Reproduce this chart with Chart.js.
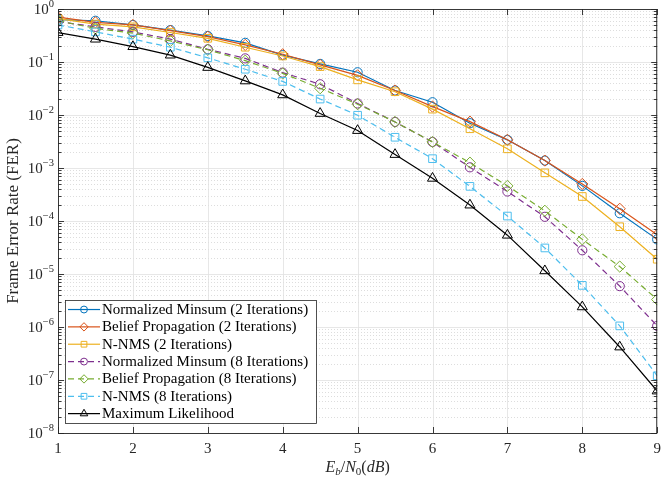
<!DOCTYPE html>
<html>
<head>
<meta charset="utf-8">
<script src="https://cdn.jsdelivr.net/npm/chart.js@4.4.1/dist/chart.umd.min.js"></script>
<style>
  html, body { margin: 0; padding: 0; background: #fff; }
  #wrap { width: 664px; height: 479px; }
</style>
</head>
<body>
<div id="wrap"><canvas id="ferChart"></canvas></div>
<script>
// Eb/N0 (dB)
const ebn0 = [1, 1.5, 2, 2.5, 3, 3.5, 4, 4.5, 5, 5.5, 6, 6.5, 7, 7.5, 8, 8.5, 9];

const nms2  = [0.63, 0.60, 0.50, 0.40, 0.31, 0.23, 0.135, 0.092, 0.064, 0.029, 0.0174, 0.0070, 0.0034, 0.00138, 4.6e-4, 1.4e-4, 4.5e-5];
const bp2   = [0.70, 0.56, 0.50, 0.39, 0.30, 0.21, 0.14, 0.088, 0.056, 0.029, 0.0144, 0.0075, 0.0034, 0.00138, 5.0e-4, 1.7e-4, 5.5e-5];
const nnms2 = [0.66, 0.52, 0.46, 0.36, 0.28, 0.19, 0.13, 0.082, 0.046, 0.0275, 0.0129, 0.0055, 0.0023, 8.1e-4, 2.9e-4, 7.8e-5, 1.9e-5];
const nms8  = [0.58, 0.46, 0.37, 0.27, 0.174, 0.117, 0.063, 0.038, 0.0165, 0.0074, 0.0031, 0.00103, 3.6e-4, 1.2e-4, 2.8e-5, 5.9e-6, 1.05e-6];
const bp8   = [0.60, 0.43, 0.35, 0.25, 0.17, 0.106, 0.061, 0.032, 0.016, 0.0074, 0.0031, 0.00126, 4.6e-4, 1.56e-4, 4.5e-5, 1.38e-5, 3.3e-6];
const nnms8 = [0.50, 0.37, 0.27, 0.19, 0.12, 0.073, 0.043, 0.020, 0.0099, 0.0038, 0.0015, 4.5e-4, 1.24e-4, 3.1e-5, 6.1e-6, 1.05e-6, 1.2e-7];
const ml    = [0.36, 0.27, 0.195, 0.135, 0.079, 0.044, 0.024, 0.0107, 0.0051, 0.0018, 6.4e-4, 2.0e-4, 5.4e-5, 1.15e-5, 2.4e-6, 4.2e-7, 6.2e-8];

const seriesNames = [
  "Normalized Minsum (2 Iterations)",
  "Belief Propagation (2 Iterations)",
  "N-NMS (2 Iterations)",
  "Normalized Minsum (8 Iterations)",
  "Belief Propagation (8 Iterations)",
  "N-NMS (8 Iterations)",
  "Maximum Likelihood"
];
const seriesData = [nms2, bp2, nnms2, nms8, bp8, nnms8, ml];

const xTicks = [1, 2, 3, 4, 5, 6, 7, 8, 9];
const yExponents = [0, -1, -2, -3, -4, -5, -6, -7, -8];

const colors = ["#0072BD", "#D95319", "#EDB120", "#7E2F8E", "#77AC30", "#4DBEEE", "#000000"];
const markers = ["circle", "rectRot", "rect", "circle", "rectRot", "rect", "triangle"];
const radii = [4.6, 5.6, 5.4, 4.6, 5.6, 5.4, 5.8];
const dashed = [false, false, false, true, true, true, false];

const SERIF = '"Liberation Serif", "DejaVu Serif", serif';

const datasets = seriesData.map((vals, i) => ({
  label: seriesNames[i],
  data: ebn0.map((x, k) => ({ x: x, y: vals[k] })),
  borderColor: colors[i],
  borderWidth: 1.2,
  borderDash: dashed[i] ? [6, 4] : [],
  pointStyle: markers[i],
  pointRadius: radii[i],
  pointBorderWidth: 1,
  pointBorderColor: colors[i],
  pointBackgroundColor: "rgba(0,0,0,0)",
  fill: false,
  tension: 0,
  order: 7 - i
}));

function drawMarker(ctx, style, x, y, r, color) {
  ctx.save();
  ctx.strokeStyle = color;
  ctx.lineWidth = 1;
  ctx.setLineDash([]);
  ctx.beginPath();
  if (style === "circle") {
    ctx.arc(x, y, r, 0, Math.PI * 2);
  } else if (style === "rect") {
    const h = r * Math.SQRT1_2;
    ctx.rect(x - h, y - h, 2 * h, 2 * h);
  } else if (style === "rectRot") {
    ctx.moveTo(x, y - r); ctx.lineTo(x + r, y); ctx.lineTo(x, y + r); ctx.lineTo(x - r, y); ctx.closePath();
  } else if (style === "triangle") {
    for (let k = 0; k < 3; k++) {
      const a = k * 2 * Math.PI / 3;
      const px = x + Math.sin(a) * r, py = y - Math.cos(a) * r;
      if (k === 0) ctx.moveTo(px, py); else ctx.lineTo(px, py);
    }
    ctx.closePath();
  }
  ctx.stroke();
  ctx.restore();
}

const matlabAxes = {
  id: "matlabAxes",
  beforeDatasetsDraw(chart) {
    const { ctx, chartArea: a, scales } = chart;
    const xs = scales.x, ys = scales.y;
    ctx.save();
    ctx.lineWidth = 0.8;
    // minor horizontal grid (dotted)
    ys.ticks.forEach(t => {
      const py = Math.round(ys.getPixelForValue(t.value)) + 0.5;
      if (t.major) return;
      ctx.strokeStyle = "#d4d4d4";
      ctx.setLineDash([1, 2]);
      ctx.beginPath(); ctx.moveTo(a.left, py); ctx.lineTo(a.right, py); ctx.stroke();
    });
    ctx.setLineDash([]);
    ctx.strokeStyle = "#e1e1e1";
    ys.ticks.forEach(t => {
      if (!t.major) return;
      const py = Math.round(ys.getPixelForValue(t.value)) + 0.5;
      ctx.beginPath(); ctx.moveTo(a.left, py); ctx.lineTo(a.right, py); ctx.stroke();
    });
    xs.ticks.forEach(t => {
      const px = Math.round(xs.getPixelForValue(t.value)) + 0.5;
      ctx.beginPath(); ctx.moveTo(px, a.top); ctx.lineTo(px, a.bottom); ctx.stroke();
    });
    ctx.restore();
  },
  afterDraw(chart) {
    const { ctx, chartArea: a, scales } = chart;
    const xs = scales.x, ys = scales.y;
    ctx.save();
    ctx.strokeStyle = "#262626";
    ctx.lineWidth = 0.9;
    ctx.setLineDash([]);
    ctx.strokeRect(a.left + 0.5, a.top + 0.5, a.right - a.left - 1, a.bottom - a.top);
    // inward tick marks
    ys.ticks.forEach(t => {
      const py = Math.round(ys.getPixelForValue(t.value)) + 0.5;
      const len = t.major ? 6 : 3.5;
      ctx.beginPath();
      ctx.moveTo(a.left, py); ctx.lineTo(a.left + len, py);
      ctx.moveTo(a.right, py); ctx.lineTo(a.right - len, py);
      ctx.stroke();
    });
    xs.ticks.forEach(t => {
      const px = Math.round(xs.getPixelForValue(t.value)) + 0.5;
      ctx.beginPath();
      ctx.moveTo(px, a.bottom); ctx.lineTo(px, a.bottom - 6);
      ctx.moveTo(px, a.top); ctx.lineTo(px, a.top + 6);
      ctx.stroke();
    });
    // tick labels
    ctx.fillStyle = "#262626";
    ctx.textBaseline = "alphabetic";
    ctx.textAlign = "center";
    ctx.font = "15px " + SERIF;
    xs.ticks.forEach(t => {
      ctx.fillText(String(t.value), xs.getPixelForValue(t.value), a.bottom + 20);
    });
    yExponents.forEach(e => {
      const py = ys.getPixelForValue(Math.pow(10, e));
      const expText = e === 0 ? "0" : "\u2212" + (-e);
      ctx.font = "10.5px " + SERIF;
      const ew = ctx.measureText(expText).width;
      const right = a.left - 4;
      ctx.textAlign = "left";
      ctx.fillText(expText, right - ew, py - 2);
      ctx.font = "15px " + SERIF;
      const bw = ctx.measureText("10").width;
      ctx.fillText("10", right - ew - bw, py + 5);
    });
    // y title
    ctx.save();
    ctx.translate(18, (a.top + a.bottom) / 2);
    ctx.rotate(-Math.PI / 2);
    ctx.textAlign = "center";
    ctx.font = "17px " + SERIF;
    ctx.fillText("Frame Error Rate (FER)", 0, 0);
    ctx.restore();
    // x title: E_b/N_0(dB)
    const parts = [
      ["E", "italic 16px", 0], ["b", "italic 11px", 3], ["/", "16px", 0], ["N", "italic 16px", 0],
      ["0", "11px", 3], ["(", "16px", 0], ["dB", "italic 16px", 0], [")", "16px", 0]
    ];
    let total = 0;
    parts.forEach(p => { ctx.font = p[1] + " " + SERIF; total += ctx.measureText(p[0]).width; });
    let cx = (a.left + a.right) / 2 - total / 2;
    ctx.textAlign = "left";
    parts.forEach(p => {
      ctx.font = p[1] + " " + SERIF;
      ctx.fillText(p[0], cx, a.bottom + 39 + p[2]);
      cx += ctx.measureText(p[0]).width;
    });
    // legend (inside, lower-left)
    const lx = a.left + 7, lw = 251, rowH = 17.35;
    const n = chart.data.datasets.length;
    const lb = a.bottom - 10, lt = lb - n * rowH - 1.5;
    ctx.fillStyle = "#ffffff";
    ctx.fillRect(lx, lt, lw, lb - lt);
    ctx.strokeStyle = "#262626";
    ctx.lineWidth = 0.8;
    ctx.strokeRect(lx + 0.5, lt + 0.5, lw, lb - lt);
    chart.data.datasets.forEach((ds, i) => {
      const cy = lt + 0.8 + rowH * (i + 0.5);
      ctx.strokeStyle = ds.borderColor;
      ctx.lineWidth = 1.2;
      ctx.setLineDash(ds.borderDash);
      ctx.beginPath(); ctx.moveTo(lx + 3, cy); ctx.lineTo(lx + 35, cy); ctx.stroke();
      ctx.setLineDash([]);
      drawMarker(ctx, ds.pointStyle, lx + 19, cy, ds.pointRadius * 0.75, ds.borderColor);
      ctx.fillStyle = "#000";
      ctx.font = "15px " + SERIF;
      ctx.textBaseline = "middle";
      ctx.fillText(ds.label, lx + 37, cy + 0.5);
      ctx.textBaseline = "alphabetic";
    });
    ctx.restore();
  }
};

new Chart(document.getElementById("ferChart"), {
  type: "line",
  data: { datasets: datasets },
  options: {
    responsive: true,
    maintainAspectRatio: false,
    animation: false,
    devicePixelRatio: 1,
    layout: { padding: { top: 9, right: 4, left: 0, bottom: 0 } },
    plugins: { legend: { display: false }, tooltip: { enabled: false } },
    elements: { line: { borderJoinStyle: "miter" } },
    scales: {
      x: {
        type: "linear",
        min: 1, max: 9,
        afterBuildTicks: s => { s.ticks = xTicks.map(v => ({ value: v })); },
        ticks: { display: false },
        grid: { display: false },
        border: { display: false },
        afterFit: s => { s.height = 46; }
      },
      y: {
        type: "logarithmic",
        min: 1e-8, max: 1,
        afterBuildTicks: s => {
          const t = [];
          yExponents.slice().reverse().forEach(e => {
            t.push({ value: Math.pow(10, e), major: true });
            if (e < 0) for (let m = 2; m <= 9; m++) t.push({ value: m * Math.pow(10, e), major: false });
          });
          s.ticks = t;
        },
        ticks: { display: false },
        grid: { display: false },
        border: { display: false },
        afterFit: s => { s.width = 58; }
      }
    }
  },
  plugins: [matlabAxes]
});
</script>
</body>
</html>
